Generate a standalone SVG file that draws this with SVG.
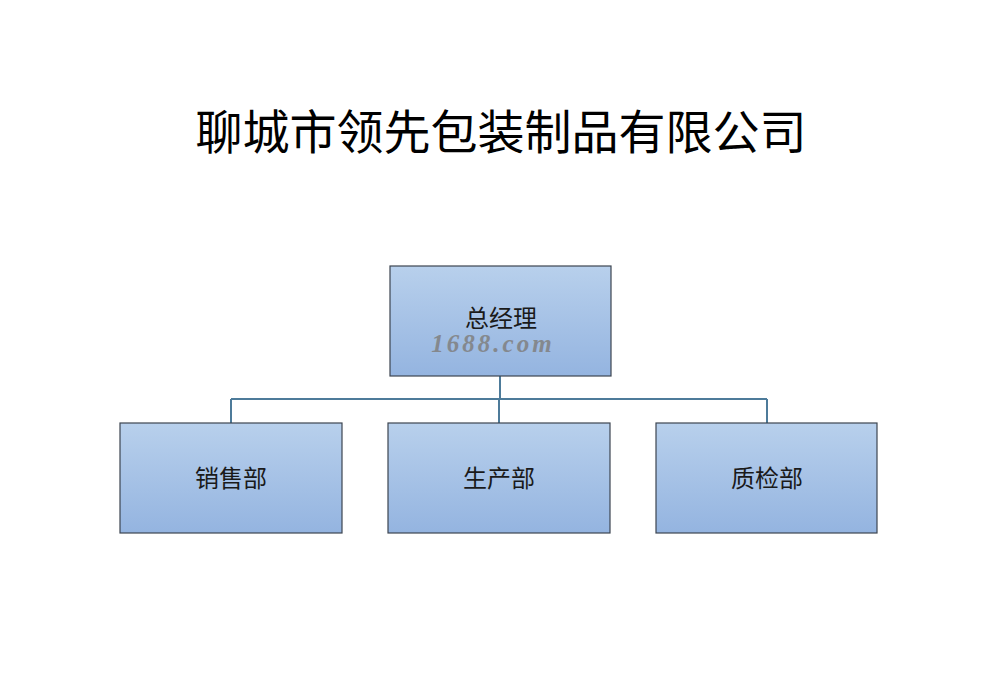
<svg xmlns="http://www.w3.org/2000/svg" width="983" height="680" viewBox="0 0 983 680">
<defs>
<linearGradient id="g" x1="0" y1="0" x2="0" y2="1">
<stop offset="0" stop-color="#b8d0ec"/>
<stop offset="1" stop-color="#94b4e0"/>
</linearGradient>
<style>
.box{fill:url(#g);stroke:#3c4550;stroke-width:1.2}
.lbl{font-family:"Liberation Serif","Noto Sans CJK SC",serif;font-size:24px;fill:#1a1a1a;text-anchor:middle}
.con{fill:none;stroke:#4d7b9a;stroke-width:2}
</style>
</defs>
<rect width="983" height="680" fill="#ffffff"/>
<text x="501" y="149" font-family="'Noto Sans CJK SC',sans-serif" font-size="47" text-anchor="middle" fill="#000">聊城市领先包装制品有限公司</text>
<g id="connectors">
<path class="con" d="M500,376 V399 M231,399 H767 M231,399 V423 M499,399 V423 M767,399 V423"/>
</g>
<g id="n0">
<rect class="box" x="390" y="266" width="221" height="110"/>
<text class="lbl" x="501" y="327">总经理</text>
<text x="493" y="352" font-family="'Liberation Serif',serif" font-size="25" font-weight="bold" font-style="italic" letter-spacing="3" text-anchor="middle" fill="#808080" opacity="0.85">1688.com</text>
</g>
<g id="n1">
<rect class="box" x="120" y="423" width="222" height="110"/>
<text class="lbl" x="231" y="487">销售部</text>
</g>
<g id="n2">
<rect class="box" x="388" y="423" width="222" height="110"/>
<text class="lbl" x="499" y="487">生产部</text>
</g>
<g id="n3">
<rect class="box" x="656" y="423" width="221" height="110"/>
<text class="lbl" x="767" y="487">质检部</text>
</g>
</svg>
